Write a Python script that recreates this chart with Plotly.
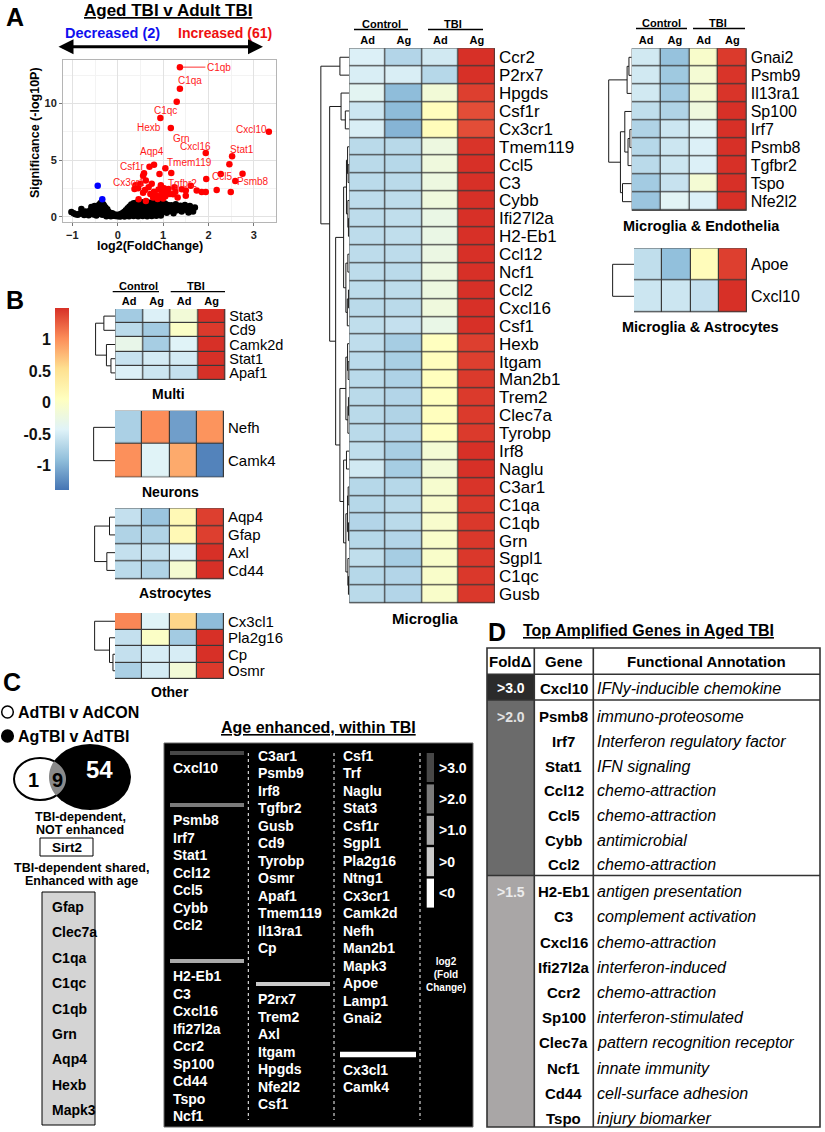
import math
import plotly.graph_objects as go

W, H = 825, 1132
FONT = "Liberation Sans"

# ======================= DATA =======================
# ---- Panel A: volcano, Aged TBI v Adult TBI ----
volcano_title = "Aged TBI v Adult TBI"
n_decreased = 2
n_increased = 61
label_genes = ["C1qb", "C1qa", "Grn", "C1qc", "Hexb", "Cxcl16", "Cxcl10", "Stat1",
               "Aqp4", "Csf1r", "Tmem119", "Cx3cr1", "Tgfbr2", "Ccl5", "Psmb8"]
label_fc = [1.37, 1.37, 1.30, 0.94, 1.17, 1.94, 3.33, 2.52, 0.80, 0.58, 1.05, 0.39, 1.22, 2.27, 2.59]
label_sig = [13.2, 11.3, 10.15, 8.7, 7.83, 5.62, 7.5, 5.33, 4.59, 3.83, 4.27, 2.77, 1.98, 3.77, 3.15]
up_fc = [2.46, 0.70, 0.56, 0.92, 1.18, 2.75, 1.95, 0.62, 0.75, 0.37, 0.95, 1.41, 1.50, 1.61, 1.74,
         1.85, 1.94, 2.18, 2.49, 0.56, 1.50, 0.46, 0.62, 0.80, 0.85, 0.90, 0.98, 1.02, 1.05, 1.08,
         1.12, 1.15, 0.78, 0.88, 0.95, 1.00, 1.10, 0.72, 0.68, 0.50, 0.45, 1.27, 1.32, 0.42, 0.60, 1.25]
up_sig = [4.62, 4.41, 3.62, 3.77, 3.86, 3.80, 3.33, 3.20, 2.90, 2.44, 2.77, 2.42, 2.30, 2.74, 2.30,
          2.18, 2.18, 2.36, 2.18, 2.12, 1.85, 1.53, 1.39, 2.20, 1.90, 2.40, 2.10, 2.50, 1.80, 2.30,
          2.45, 2.00, 1.70, 1.55, 1.75, 1.60, 2.10, 2.00, 2.60, 2.90, 2.50, 2.20, 1.70, 2.75, 2.35, 2.60]
down_fc = [-0.44, -0.34]
down_sig = [2.74, 1.53]
ns_fc = [-1.02, -0.97, -0.93, -0.88, -0.84, -0.80, -0.78, -0.74, -0.71, -0.68,
         -0.64, -0.61, -0.58, -0.56, -0.53, -0.51, -0.49, -0.47, -0.45, -0.43,
         -0.41, -0.39, -0.38, -0.37, -0.36, -0.35, -0.34, -0.33, -0.32, -0.31,
         -0.30, -0.29, -0.28, -0.27, -0.26, -0.25, -0.23, -0.21, -0.20, -0.18,
         -0.16, -0.14, -0.12, -0.10, -0.08, -0.05, -0.03, 0.00, 0.02, 0.05,
         0.07, 0.10, 0.12, 0.14, 0.16, 0.18, 0.20, 0.22, 0.24, 0.26,
         0.28, 0.30, 0.31, 0.33, 0.35, 0.36, 0.38, 0.40, 0.41, 0.43,
         0.45, 0.46, 0.48, 0.50, 0.51, 0.53, 0.55, 0.56, 0.58, 0.60,
         0.61, 0.63, 0.65, 0.66, 0.68, 0.70, 0.71, 0.73, 0.75, 0.76,
         0.78, 0.80, 0.81, 0.83, 0.85, 0.86, 0.88, 0.90, 0.91, 0.93,
         0.95, 0.96, 0.98, 1.00, 1.02, 1.04, 1.06, 1.08, 1.10, 1.12,
         1.15, 1.18, 1.20, 1.23, 1.26, 1.28, 1.31, 1.34, 1.38, 1.41,
         1.45, 1.48, 1.52, 1.56, 1.59, 1.62, 1.66, 1.70, 0.15, 0.25,
         0.35, 0.45, 0.55, 0.65, 0.75, 0.85, 0.95, -0.25, -0.15, 0.05]
ns_sig = [0.42, 0.30, 0.22, 0.18, 0.26, 0.68, 0.36, 0.14, 0.45, 0.28,
          0.12, 0.55, 0.86, 0.32, 0.20, 0.95, 0.62, 0.10, 0.42, 0.76,
          1.05, 0.26, 1.18, 0.56, 0.90, 1.32, 0.16, 0.72, 1.10, 0.40,
          0.96, 0.60, 0.22, 0.82, 0.50, 0.30, 0.66, 0.46, 0.10, 0.36,
          0.26, 0.15, 0.30, 0.08, 0.20, 0.06, 0.16, 0.04, 0.12, 0.22,
          0.06, 0.30, 0.14, 0.42, 0.20, 0.56, 0.08, 0.74, 0.30, 0.90,
          0.48, 1.08, 0.18, 0.70, 1.18, 0.36, 0.94, 0.14, 1.24, 0.56,
          0.80, 1.30, 0.28, 1.04, 0.64, 1.28, 0.18, 0.90, 1.20, 0.44,
          0.74, 1.34, 0.10, 1.00, 0.60, 1.24, 0.30, 0.86, 1.14, 0.50,
          1.30, 0.70, 0.20, 1.00, 1.24, 0.40, 0.80, 1.34, 0.60, 1.10,
          0.30, 0.90, 1.24, 0.54, 0.96, 1.16, 0.70, 0.34, 1.04, 0.80,
          0.50, 1.00, 0.64, 0.30, 0.86, 1.10, 0.56, 0.76, 0.96, 0.46,
          0.80, 1.03, 0.60, 0.36, 0.94, 0.66, 0.46, 0.80, 0.02, 0.04,
          0.06, 0.03, 0.05, 0.04, 0.06, 0.08, 0.10, 0.04, 0.03, 0.01]

# ---- Heatmaps (row z-scores; columns Control Ad/Ag, TBI Ad/Ag) ----
heat_cols = ["Ad", "Ag", "Ad", "Ag"]
heat_groups = ["Control", "TBI"]
z_min, z_max = -1.39, 1.50
cbar_ticks = [-1, -0.5, 0, 0.5, 1]

microglia_genes = ["Ccr2", "P2rx7", "Hpgds", "Csf1r", "Cx3cr1", "Tmem119", "Ccl5", "C3", "Cybb",
                   "Ifi27l2a", "H2-Eb1", "Ccl12", "Ncf1", "Ccl2", "Cxcl16", "Csf1", "Hexb", "Itgam",
                   "Man2b1", "Trem2", "Clec7a", "Tyrobp", "Irf8", "Naglu", "C3ar1", "C1qa", "C1qb",
                   "Grn", "Sgpl1", "C1qc", "Gusb"]
microglia_z = [[-0.45, -0.70, -0.52, 1.50], [-0.47, -0.47, -0.68, 1.50], [-0.38, -0.92, -0.15, 1.42],
               [-0.55, -0.93, 0.08, 1.35], [-0.47, -0.98, 0.10, 1.35], [-0.66, -0.67, -0.22, 1.48],
               [-0.66, -0.68, -0.20, 1.50], [-0.65, -0.66, -0.22, 1.50], [-0.64, -0.64, -0.20, 1.50],
               [-0.64, -0.62, -0.27, 1.50], [-0.64, -0.62, -0.27, 1.50], [-0.64, -0.64, -0.25, 1.50],
               [-0.64, -0.66, -0.23, 1.50], [-0.64, -0.64, -0.22, 1.50], [-0.66, -0.66, -0.20, 1.50],
               [-0.62, -0.60, -0.28, 1.50], [-0.63, -0.78, 0.05, 1.42], [-0.65, -0.76, 0.08, 1.42],
               [-0.66, -0.73, 0.07, 1.45], [-0.66, -0.70, 0.06, 1.45], [-0.66, -0.72, 0.07, 1.45],
               [-0.66, -0.70, 0.05, 1.45], [-0.63, -0.77, -0.12, 1.50], [-0.52, -0.78, -0.14, 1.50],
               [-0.68, -0.68, -0.08, 1.48], [-0.68, -0.66, -0.06, 1.46], [-0.70, -0.66, -0.06, 1.46],
               [-0.68, -0.70, -0.04, 1.46], [-0.62, -0.78, -0.04, 1.46], [-0.68, -0.70, -0.04, 1.46],
               [-0.66, -0.70, -0.04, 1.46]]
microglia_tree = (1.0, (0.33, 0, 1),
                  (0.69, (0.29, 2, (0.14, 3, 4)),
                   (0.48,
                    (0.20, (0.10, (0.06, 5, (0.04, 6, 7)), (0.05, 8, (0.03, 9, 10))),
                     (0.12, (0.05, 11, 12), (0.07, (0.03, 13, 14), 15))),
                    (0.33, (0.12, (0.06, 16, (0.04, 17, 18)), (0.05, (0.03, 19, 20), 21)),
                     (0.20, (0.10, 22, 23),
                      (0.12, (0.06, (0.04, 24, 25), (0.03, 26, 27)), (0.05, 28, (0.03, 29, 30))))))))

endo_genes = ["Gnai2", "Psmb9", "Il13ra1", "Sp100", "Irf7", "Psmb8", "Tgfbr2", "Tspo", "Nfe2l2"]
endo_z = [[-0.52, -0.88, -0.05, 1.45], [-0.52, -0.82, -0.12, 1.48], [-0.52, -0.80, -0.12, 1.48],
          [-0.62, -0.72, -0.20, 1.50], [-0.72, -0.55, -0.40, 1.50], [-0.68, -0.55, -0.45, 1.50],
          [-0.66, -0.55, -0.45, 1.50], [-0.80, -0.58, -0.12, 1.50], [-0.85, -0.40, -0.45, 1.50]]
endo_tree = (1.0, (0.2, (0.12, 0, 1), 2), (0.49, (0.3, 3, (0.16, (0.08, 4, 5), 6)), (0.4, 7, 8)))

astro2_genes = ["Apoe", "Cxcl10"]
astro2_z = [[-0.62, -0.90, 0.10, 1.42], [-0.55, -0.55, -0.60, 1.50]]
astro2_tree = (1.0, 0, 1)

multi_genes = ["Stat3", "Cd9", "Camk2d", "Stat1", "Apaf1"]
multi_z = [[-0.80, -0.45, -0.15, 1.50], [-0.65, -0.80, 0.00, 1.45], [-0.30, -0.78, -0.42, 1.50],
           [-0.58, -0.50, -0.50, 1.50], [-0.45, -0.55, -0.60, 1.50]]
multi_tree = (1.0, (0.58, 0, 1), (0.45, 2, (0.22, 3, 4)))

neuron_genes = ["Nefh", "Camk4"]
neuron_z = [[-0.75, 1.02, -1.12, 0.98], [1.00, -0.42, 0.85, -1.30]]
neuron_tree = (1.0, 0, 1)

astro_genes = ["Aqp4", "Gfap", "Axl", "Cd44"]
astro_z = [[-0.60, -0.85, 0.15, 1.42], [-0.72, -0.72, 0.15, 1.42], [-0.60, -0.60, -0.45, 1.50],
           [-0.65, -0.72, -0.10, 1.50]]
astro_tree = (1.0, (0.27, 0, 1), (0.4, 2, 3))

other_genes = ["Cx3cl1", "Pla2g16", "Cp", "Osmr"]
other_z = [[1.05, -0.42, 0.60, -0.92], [-0.60, 0.00, -0.80, 1.50], [-0.60, -0.48, -0.48, 1.50],
           [-0.75, -0.50, -0.15, 1.45]]
other_tree = (1.0, 0, (0.27, 1, (0.1, 2, 3)))

# ---- Panel C ----
venn_labels = ["AdTBI v AdCON", "AgTBI v AdTBI"]
venn_counts = [1, 9, 54]
not_enhanced = ["Sirt2"]
shared_enhanced = ["Gfap", "Clec7a", "C1qa", "C1qc", "C1qb", "Grn", "Aqp4", "Hexb", "Mapk3"]
fc_levels = [">3.0", ">2.0", ">1.0", ">0", "<0"]
age_columns = [
    [(">3.0", ["Cxcl10"]),
     (">2.0", ["Psmb8", "Irf7", "Stat1", "Ccl12", "Ccl5", "Cybb", "Ccl2"]),
     (">1.0", ["H2-Eb1", "C3", "Cxcl16", "Ifi27l2a", "Ccr2", "Sp100", "Cd44", "Tspo", "Ncf1"])],
    [(">1.0", ["C3ar1", "Psmb9", "Irf8", "Tgfbr2", "Gusb", "Cd9", "Tyrobp", "Osmr", "Apaf1",
               "Tmem119", "Il13ra1", "Cp"]),
     (">0", ["P2rx7", "Trem2", "Axl", "Itgam", "Hpgds", "Nfe2l2", "Csf1"])],
    [(">0", ["Csf1", "Trf", "Naglu", "Stat3", "Csf1r", "Sgpl1", "Pla2g16", "Ntng1", "Cx3cr1",
             "Camk2d", "Nefh", "Man2b1", "Mapk3", "Apoe", "Lamp1", "Gnai2"]),
     ("<0", ["Cx3cl1", "Camk4"])],
]

# ---- Panel D ----
table_fold = [">3.0", ">2.0", ">1.5"]
table_genes = [["Cxcl10"],
               ["Psmb8", "Irf7", "Stat1", "Ccl12", "Ccl5", "Cybb", "Ccl2"],
               ["H2-Eb1", "C3", "Cxcl16", "Ifi27l2a", "Ccr2", "Sp100", "Clec7a", "Ncf1", "Cd44", "Tspo"]]
table_notes = [["IFNy-inducible chemokine"],
               ["immuno-proteosome", "Interferon regulatory factor", "IFN signaling", "chemo-attraction",
                "chemo-attraction", "antimicrobial", "chemo-attraction"],
               ["antigen presentation", "complement activation", "chemo-attraction", "interferon-induced",
                "chemo-attraction", "interferon-stimulated", "pattern recognition receptor",
                "innate immunity", "cell-surface adhesion", "injury biomarker"]]

# ======================= HELPERS =======================
fig = go.Figure()
axes_layout = {}
shapes = []
annotations = []
_axn = [0]


def px(x):
    return x / W


def py(y):
    return 1 - y / H


def new_axes(x0, x1, y0, y1, xopts, yopts):
    _axn[0] += 1
    n = _axn[0]
    s = "" if n == 1 else str(n)
    axes_layout["xaxis" + s] = dict(domain=[px(x0), px(x1)], anchor="y" + s, **xopts)
    axes_layout["yaxis" + s] = dict(domain=[py(y1), py(y0)], anchor="x" + s, **yopts)
    return "x" + s, "y" + s


def text(x, y, s, size, color="black", bold=False, italic=False, xanchor="center",
         under=False, angle=0):
    f = dict(family=FONT, size=size, color=color)
    if bold:
        f["weight"] = "bold"
    if italic:
        f["style"] = "italic"
    if under:
        f["lineposition"] = "under"
    annotations.append(dict(x=px(x), y=py(y), xref="paper", yref="paper", text=s, showarrow=False,
                            font=f, xanchor=xanchor, yanchor="middle", textangle=angle, borderpad=0))


def rect(x0, y0, x1, y1, fill="rgba(0,0,0,0)", lc=None, lw=1.0, layer="above"):
    shapes.append(dict(type="rect", xref="paper", yref="paper", x0=px(x0), x1=px(x1),
                       y0=py(y1), y1=py(y0), fillcolor=fill, layer=layer,
                       line=dict(color=lc if lc else "rgba(0,0,0,0)", width=lw if lc else 0)))


def seg(x0, y0, x1, y1, color="black", width=1.0, dash="solid"):
    shapes.append(dict(type="line", xref="paper", yref="paper", x0=px(x0), x1=px(x1),
                       y0=py(y0), y1=py(y1), line=dict(color=color, width=width, dash=dash)))


def ellipse(x0, y0, x1, y1, fill, lc=None, lw=1.0):
    shapes.append(dict(type="circle", xref="paper", yref="paper", x0=px(x0), x1=px(x1),
                       y0=py(y1), y1=py(y0), fillcolor=fill,
                       line=dict(color=lc if lc else "rgba(0,0,0,0)", width=lw if lc else 0)))


COLORSCALE = [[0.0, "#4575B4"], [1 / 6, "#91BFDB"], [2 / 6, "#E0F3F8"], [3 / 6, "#FFFFBF"],
              [4 / 6, "#FEE090"], [5 / 6, "#FC8D59"], [1.0, "#D73027"]]
NOAX = dict(showgrid=False, zeroline=False, showline=False, ticks="", showticklabels=False)


def heatmap(genes, z, box, label_size, col_labels=False, colorbar=None):
    x0, x1, y0, y1 = box
    n = len(genes)
    xo = dict(range=[-0.5, 3.5], tickvals=[0, 1, 2, 3], ticktext=heat_cols, side="top",
              showticklabels=col_labels, ticks="", showgrid=False, zeroline=False, showline=False,
              ticklabelstandoff=1, tickfont=dict(family=FONT, size=11, weight="bold"))
    yo = dict(range=[n - 0.5, -0.5], tickvals=list(range(n)), ticktext=genes, side="right",
              ticks="", showgrid=False, zeroline=False, showline=False, ticklabelstandoff=3,
              tickfont=dict(family=FONT, size=label_size, color="black"))
    xa, ya = new_axes(x0, x1, y0, y1, xo, yo)
    tr = go.Heatmap(z=z, x=[0, 1, 2, 3], y=list(range(n)), colorscale=COLORSCALE, zmin=z_min,
                    zmax=z_max, xgap=1.2, ygap=1.2, xaxis=xa, yaxis=ya, hoverinfo="skip",
                    showscale=colorbar is not None)
    if colorbar is not None:
        tr.colorbar = colorbar
    fig.add_trace(tr)
    shapes.append(dict(type="rect", xref=xa, yref=ya, x0=-0.5, x1=3.5, y0=-0.5, y1=n - 0.5,
                       fillcolor="#3a3a3a", line=dict(color="#3a3a3a", width=1.2), layer="below"))


def dendrogram(tree, n, box):
    xs, ys = [], []

    def walk(node):
        if isinstance(node, int):
            return 0.0, float(node)
        h, left, right = node
        hl, yl = walk(left)
        hr, yr = walk(right)
        xs.extend([hl, h, h, hr, None])
        ys.extend([yl, yl, yr, yr, None])
        return h, (yl + yr) / 2

    walk(tree)
    x0, x1, y0, y1 = box
    xa, ya = new_axes(x0, x1, y0, y1, dict(range=[tree[0] * 1.03, 0], **NOAX),
                      dict(range=[n - 0.5, -0.5], **NOAX))
    fig.add_trace(go.Scatter(x=xs, y=ys, mode="lines", line=dict(color="#1a1a1a", width=1),
                             xaxis=xa, yaxis=ya, hoverinfo="skip", showlegend=False))


def col_header(ctrl_x, tbi_x, y, ul_ctrl, ul_tbi, y_ul):
    text(ctrl_x, y, heat_groups[0], 11, bold=True)
    text(tbi_x, y, heat_groups[1], 11, bold=True)
    seg(ul_ctrl[0], y_ul, ul_ctrl[1], y_ul, width=1.3)
    seg(ul_tbi[0], y_ul, ul_tbi[1], y_ul, width=1.3)


# ======================= PANEL A : volcano =======================
xa_v, ya_v = new_axes(
    63, 276, 60, 222,
    dict(range=[-1.205, 3.487], tickvals=[-1, 0, 1, 2, 3], ticks="outside", ticklen=3,
         tickcolor="#777", showline=True, mirror=True, linecolor="#b5b5b5", linewidth=1,
         showgrid=True, gridcolor="#e2e2e2", zeroline=False,
         tickfont=dict(family=FONT, size=11, weight="bold", color="#222"),
         minor=dict(tickvals=[-0.5, 0.5, 1.5, 2.5], showgrid=True, gridcolor="#f3f3f3", ticks="")),
    dict(range=[-0.47, 13.83], tickvals=[0, 5, 10], ticks="outside", ticklen=3,
         tickcolor="#777", showline=True, mirror=True, linecolor="#b5b5b5", linewidth=1,
         showgrid=True, gridcolor="#e2e2e2", zeroline=False,
         tickfont=dict(family=FONT, size=11, weight="bold", color="#222"),
         minor=dict(tickvals=[2.5, 7.5, 12.5], showgrid=True, gridcolor="#f3f3f3", ticks="")))

fig.add_trace(go.Scatter(x=ns_fc, y=ns_sig, mode="markers", marker=dict(color="black", size=6.5),
                         xaxis=xa_v, yaxis=ya_v, hoverinfo="skip", showlegend=False))
fig.add_trace(go.Scatter(x=up_fc + label_fc, y=up_sig + label_sig, mode="markers",
                         marker=dict(color="#FF0000", size=6.5),
                         xaxis=xa_v, yaxis=ya_v, hoverinfo="skip", showlegend=False))
fig.add_trace(go.Scatter(x=down_fc, y=down_sig, mode="markers", marker=dict(color="#0000FF", size=6.5),
                         xaxis=xa_v, yaxis=ya_v, hoverinfo="skip", showlegend=False))

label_offset_px = {"C1qb": (39, 0), "C1qa": (10, -8), "Grn": (5, 37), "C1qc": (5, -8),
                   "Hexb": (-22, 0), "Cxcl16": (-10, -7), "Cxcl10": (-17, -2), "Stat1": (10, -7),
                   "Aqp4": (-2, -13), "Csf1r": (-12, -7), "Tmem119": (24, -6), "Cx3cr1": (-6, -3),
                   "Tgfbr2": (9, -11), "Ccl5": (1, 3), "Psmb8": (18, 1)}
for g, fcv, sv in zip(label_genes, label_fc, label_sig):
    dx, dy = label_offset_px[g]
    lf = dict(family=FONT, size=10, color="#FF1A1A")
    if g == "C1qb":
        annotations.append(dict(x=fcv, y=sv, xref=xa_v, yref=ya_v, text=g, showarrow=True,
                                ax=dx, ay=dy, arrowhead=0, arrowwidth=1, arrowcolor="#FF3030",
                                standoff=3, font=lf))
    else:
        annotations.append(dict(x=fcv, y=sv, xref=xa_v, yref=ya_v, text=g, showarrow=False,
                                xshift=dx, yshift=-dy, font=lf))

text(15, 17, "A", 25, bold=True)
text(168, 11, volcano_title, 17, bold=True, under=True)
text(112, 33, "Decreased (%d)" % n_decreased, 14.5, color="#1010EE", bold=True)
text(177, 33, "Increased (%d)" % n_increased, 14, color="#EE1010", bold=True, xanchor="left")
annotations.append(dict(x=px(263), y=py(46.7), xref="paper", yref="paper", ax=-206, ay=0,
                        axref="pixel", ayref="pixel", showarrow=True, arrowhead=2,
                        arrowside="end+start", arrowsize=1, arrowwidth=3, arrowcolor="black", text=""))
text(150, 246, "log2(FoldChange)", 12.5, bold=True)
text(35, 133, "Significance (-log10P)", 12.5, bold=True, angle=-90)

# ======================= Heatmaps =======================
heatmap(microglia_genes, microglia_z, (349.3, 495, 48.3, 603.3), 17, col_labels=True)
dendrogram(microglia_tree, len(microglia_genes), (320, 349.3, 48.3, 603.3))
col_header(381, 453, 23.5, (354, 408), (428, 483), 29.5)
text(425, 618, "Microglia", 15, bold=True)

heatmap(endo_genes, endo_z, (631.7, 746.7, 48.3, 210.7), 16, col_labels=True)
dendrogram(endo_tree, len(endo_genes), (608, 631.7, 48.3, 210.7))
col_header(661, 718, 23.3, (636, 687), (693, 745), 28.5)
text(701, 226, "Microglia & Endothelia", 14.5, bold=True)

heatmap(astro2_genes, astro2_z, (634, 747, 248.3, 312.3), 16)
dendrogram(astro2_tree, len(astro2_genes), (612, 634, 248.3, 312.3))
text(700, 327, "Microglia & Astrocytes", 14.5, bold=True)

# Panel B
text(15, 300, "B", 25, bold=True)
cb = dict(x=px(55), xanchor="left", y=py(399), yanchor="middle", len=182, lenmode="pixels",
          thickness=14, thicknessmode="pixels", xpad=0, ypad=0, outlinewidth=0,
          showticklabels=False, ticks="")
heatmap(multi_genes, multi_z, (115.3, 225.3, 309, 380), 14.5, col_labels=True, colorbar=cb)
dendrogram(multi_tree, len(multi_genes), (95, 115.3, 309, 380))
col_header(138.5, 196, 285.7, (112.7, 159), (170.7, 225), 291.7)
text(168, 394, "Multi", 14, bold=True)

heatmap(neuron_genes, neuron_z, (115, 224, 410.7, 477.3), 15)
dendrogram(neuron_tree, len(neuron_genes), (93, 115, 410.7, 477.3))
text(170, 491.7, "Neurons", 14, bold=True)

heatmap(astro_genes, astro_z, (115, 224, 508.3, 579.3), 15)
dendrogram(astro_tree, len(astro_genes), (94, 115, 508.3, 579.3))
text(175, 592.7, "Astrocytes", 14, bold=True)

heatmap(other_genes, other_z, (115, 224, 613, 679), 15)
dendrogram(other_tree, len(other_genes), (94, 115, 613, 679))
text(170, 692, "Other", 14, bold=True)

# colour-bar tick axis
xa_c, ya_c = new_axes(55, 69, 308, 490, dict(range=[0, 1], **NOAX),
                      dict(range=[z_min, z_max], tickvals=cbar_ticks,
                           ticktext=[("%g" % t) for t in cbar_ticks], side="left", ticks="",
                           showgrid=False, zeroline=False, showline=False, ticklabelstandoff=3,
                           tickfont=dict(family=FONT, size=16, weight="bold", color="#111")))
fig.add_trace(go.Scatter(x=[0.5, 0.5], y=[z_min, z_max], mode="markers", marker=dict(opacity=0),
                         xaxis=xa_c, yaxis=ya_c, hoverinfo="skip", showlegend=False))

# ======================= PANEL C =======================
text(12, 682, "C", 25, bold=True)
ellipse(1.7, 706, 13.3, 718, "white", "black", 1.5)
ellipse(1.7, 730, 13.3, 742, "black", "black", 1.5)
text(17, 712, venn_labels[0], 16, bold=True, xanchor="left")
text(17, 736, venn_labels[1], 16, bold=True, xanchor="left")

small = (40.0, 779.0, 26.0, 21.0)
big = (90.0, 777.0, 41.0, 33.0)
ellipse(big[0] - big[2], big[1] - big[3], big[0] + big[2], big[1] + big[3], "black")
ellipse(small[0] - small[2], small[1] - small[3], small[0] + small[2], small[1] + small[3],
        "white", "black", 2)


def inside(p, e):
    return ((p[0] - e[0]) / e[2]) ** 2 + ((p[1] - e[1]) / e[3]) ** 2 <= 1.0


pts = []
for i in range(721):
    t = -math.pi + 2 * math.pi * i / 720
    p = (small[0] + small[2] * math.cos(t), small[1] + small[3] * math.sin(t))
    if inside(p, big):
        pts.append(p)
for i in range(721):
    t = 2 * math.pi * i / 720
    p = (big[0] + big[2] * math.cos(t), big[1] + big[3] * math.sin(t))
    if inside(p, small):
        pts.append(p)
lens = "M " + " L ".join("%.5f,%.5f" % (px(a), py(b)) for a, b in pts) + " Z"
shapes.append(dict(type="path", xref="paper", yref="paper", path=lens, fillcolor="#8a8a8a",
                   line=dict(width=0)))
text(33, 780, str(venn_counts[0]), 20, bold=True)
text(57.5, 780, str(venn_counts[1]), 20, bold=True)
text(99, 770, str(venn_counts[2]), 24, color="white", bold=True)

text(80, 817, "TBI-dependent,", 12.5, bold=True)
text(80, 830, "NOT enhanced", 12.5, bold=True)
rect(40, 838, 93, 856, "white", "black", 1)
text(66.5, 847.5, not_enhanced[0], 13.5, bold=True)
text(81, 868, "TBI-dependent shared,", 12.5, bold=True)
text(81, 881, "Enhanced with age", 12.5, bold=True)
rect(42, 892, 95, 1125, "#d4d4d4", "black", 1)
for i, g in enumerate(shared_enhanced):
    text(51, 907 + 25.4 * i, g, 14, bold=True, xanchor="left")

# Age-enhanced black box
text(318, 727, "Age enhanced, within TBI", 16, bold=True, under=True)
rect(164, 743, 473, 1127, "black", "#6a6a6a", 1)
level_color = {">3.0": "#474747", ">2.0": "#7a7a7a", ">1.0": "#a9a9a9", ">0": "#cbcbcb", "<0": "#ffffff"}
col_text_x = [171.7, 257, 341.7]
col_bar_x = [(170, 244), (256, 330), (340, 416)]
col_group_bar_y = [[753, 805, 961], [None, 984], [None, 1054.5]]
for ci, groups in enumerate(age_columns):
    for gi, (lvl, genes) in enumerate(groups):
        by = col_group_bar_y[ci][gi]
        if by is None:
            y_first = 755.5
        else:
            bh = 5.5 if lvl == "<0" else 4.2
            rect(col_bar_x[ci][0], by - bh / 2, col_bar_x[ci][1], by + bh / 2, level_color[lvl])
            y_first = by + 15
        for k, g in enumerate(genes):
            text(col_text_x[ci], y_first + 17.5 * k, g, 14, color="white", bold=True, xanchor="left")
for sx in (248.3, 334, 420):
    seg(sx, 753, sx, 1120, color="white", width=1, dash="dot")
for k, lvl in enumerate(fc_levels):
    top = 753 + 31.4 * k
    rect(426.7, top, 434, top + 29, level_color[lvl])
    text(438, top + 14.5, lvl, 14, color="white", bold=True, xanchor="left")
text(446, 974, "log2<br>(Fold<br>Change)", 10, color="white", bold=True)

# ======================= PANEL D =======================
text(497, 632, "D", 25, bold=True)
text(648, 630, "Top Amplified Genes in Aged TBI", 16, bold=True, under=True)
T_L, T_R, T_T, T_B = 487, 820, 648, 1127
C1, C2 = 534.3, 593.3
group_top = [674.3, 700, 875.5]
group_bot = [700, 875.5, 1127]
group_first = [688, 716.7, 891.7]
group_step = [0, 24.7, 25.2]
fold_fill = ["#2b2b2b", "#6b6b6b", "#a9a6a6"]
fold_txt = ["#ffffff", "#e2e2e2", "#ececec"]
for gi in range(3):
    rect(T_L, group_top[gi], C1, group_bot[gi], fold_fill[gi])
    text((T_L + C1) / 2, group_first[gi], table_fold[gi], 14, color=fold_txt[gi], bold=True)
    for k, (g, note) in enumerate(zip(table_genes[gi], table_notes[gi])):
        yy = group_first[gi] + group_step[gi] * k
        text((C1 + C2) / 2, yy, g, 15, bold=True)
        text(C2 + 3, yy, note, 16, italic=True, xanchor="left")
rect(T_L, T_T, T_R, T_B, lc="#333333", lw=1.6)
for yy in (674.3, 700, 875.5):
    seg(T_L, yy, T_R, yy, color="#333333", width=1.6)
for xx in (C1, C2):
    seg(xx, T_T, xx, T_B, color="#333333", width=1.6)
text((T_L + C1) / 2, 661, "FoldΔ", 15, bold=True)
text((C1 + C2) / 2, 661, "Gene", 15, bold=True)
text((C2 + T_R) / 2, 661, "Functional Annotation", 15, bold=True)

# ======================= LAYOUT =======================
fig.update_layout(**axes_layout)
fig.update_layout(width=W, height=H, autosize=False, margin=dict(l=0, r=0, t=0, b=0),
                  paper_bgcolor="white", plot_bgcolor="white", template="none",
                  showlegend=False, hovermode=False, shapes=shapes, annotations=annotations,
                  font=dict(family=FONT, color="black"))
fig.write_html("out.html", config={"displayModeBar": False, "staticPlot": True},
               post_script="document.body.style.margin='0px';")
